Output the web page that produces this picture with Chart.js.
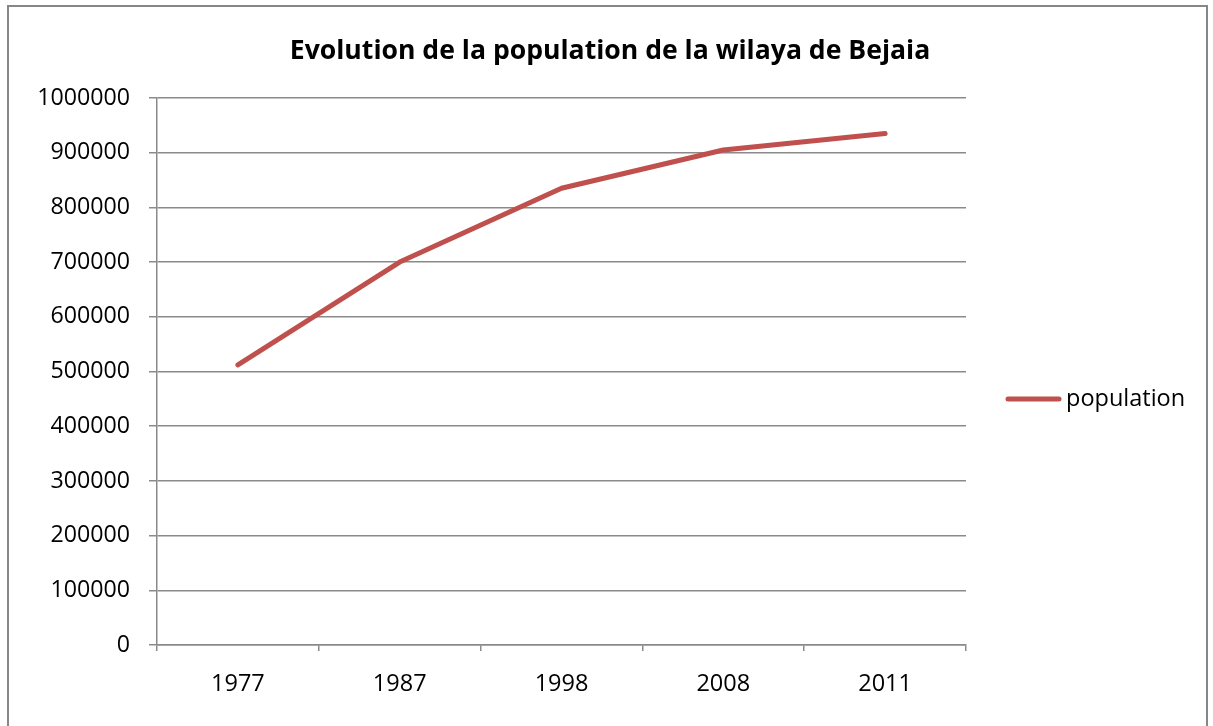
<!DOCTYPE html>
<html>
<head>
<meta charset="utf-8">
<script src="https://cdn.jsdelivr.net/npm/chart.js@4.4.1/dist/chart.umd.min.js"></script>
<style>
  html, body { margin: 0; padding: 0; background: #ffffff; overflow: hidden; }
  #frame { position: absolute; left: 7px; top: 5px; width: 1201px; height: 760px; border: 2px solid #878787; box-sizing: border-box; }
  #c { position: absolute; left: 0; top: 0; }
</style>
</head>
<body>
<div id="frame"></div>
<canvas id="c" width="1213" height="726"></canvas>
<script>
const categories = ["1977", "1987", "1998", "2008", "2011"];
const population = [512000, 700000, 835000, 905000, 935000];
const seriesLabel = "population";
const chartTitle = "Evolution de la population de la wilaya de Bejaia";

const FONT = "'Open Sans', 'Noto Sans', sans-serif";
const LINE_COLOR = "#C0504D";
const GRID_COLOR = "#8a8a8a";

const titleAndLegend = {
  id: 'titleAndLegend',
  afterDraw(chart) {
    const ctx = chart.ctx;
    const ds = chart.data.datasets[0];
    ctx.save();
    // title, centred on the whole chart frame
    ctx.fillStyle = '#000';
    ctx.font = "bold 26.6px " + FONT;
    ctx.textAlign = 'center';
    ctx.textBaseline = 'alphabetic';
    ctx.fillText(chart.options.plugins.titleAndLegend.text, 610, 59);
    // legend on the right
    const y = 399;
    ctx.strokeStyle = ds.borderColor;
    ctx.lineWidth = 5;
    ctx.lineCap = 'round';
    ctx.beginPath();
    ctx.moveTo(1008, y);
    ctx.lineTo(1059, y);
    ctx.stroke();
    ctx.font = "23.5px " + FONT;
    ctx.textBaseline = 'middle';
    ctx.textAlign = 'left';
    ctx.fillText(ds.label, 1066, y);
    ctx.restore();
  }
};

new Chart(document.getElementById('c'), {
  type: 'line',
  data: {
    labels: categories,
    datasets: [{
      label: seriesLabel,
      data: population,
      borderColor: LINE_COLOR,
      backgroundColor: LINE_COLOR,
      borderWidth: 5,
      borderCapStyle: 'round',
      borderJoinStyle: 'round',
      pointRadius: 0,
      tension: 0,
      fill: false
    }]
  },
  options: {
    responsive: false,
    animation: false,
    layout: { padding: { left: 0, right: 247, top: 98, bottom: 0 } },
    plugins: {
      legend: { display: false },
      tooltip: { enabled: false },
      title: { display: false },
      titleAndLegend: { text: chartTitle }
    },
    scales: {
      x: {
        offset: true,
        grid: { offset: true, drawOnChartArea: false, drawTicks: true, tickLength: 6, color: GRID_COLOR, lineWidth: 1.5 },
        border: { color: GRID_COLOR, width: 1.5 },
        ticks: { color: '#000', font: { family: FONT, size: 23.5 }, padding: 19, maxRotation: 0 },
        afterFit(scale) { scale.height = 81; }
      },
      y: {
        min: 0,
        max: 1000000,
        ticks: {
          stepSize: 100000, color: '#000', font: { family: FONT, size: 23.2 }, padding: 19,
          callback: (v) => String(v)
        },
        grid: { color: GRID_COLOR, lineWidth: 1.5, tickLength: 8 },
        border: { color: GRID_COLOR, width: 1.5 },
        afterFit(scale) { scale.width = 157; }
      }
    }
  },
  plugins: [titleAndLegend]
});
</script>
</body>
</html>
